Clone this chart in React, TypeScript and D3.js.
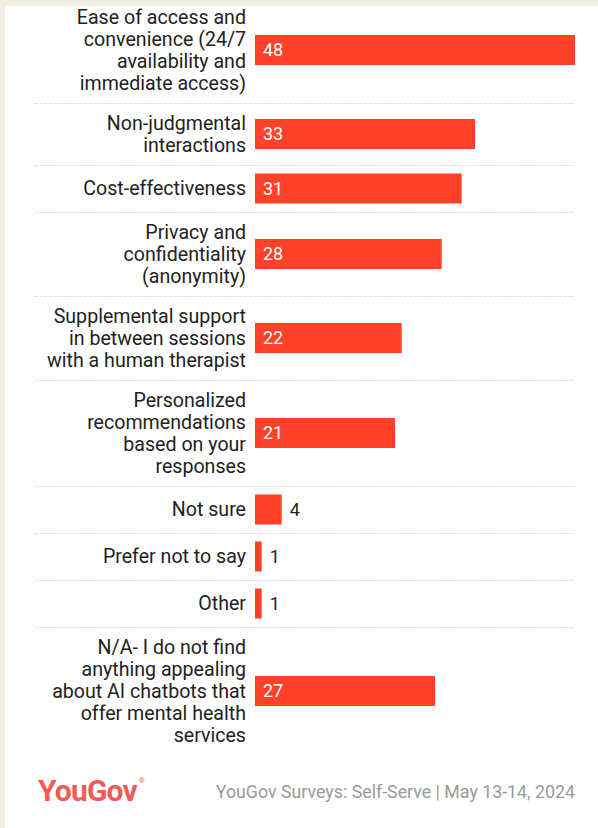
import * as d3 from "d3";
import React from "react";

// Answer labels, line breaks as in the published graphic
const categories = [
	"Ease of access and\nconvenience (24/7\navailability and\nimmediate access)",
	"Non-judgmental\ninteractions",
	"Cost-effectiveness",
	"Privacy and\nconfidentiality\n(anonymity)",
	"Supplemental support\nin between sessions\nwith a human therapist",
	"Personalized\nrecommendations\nbased on your\nresponses",
	"Not sure",
	"Prefer not to say",
	"Other",
	"N/A- I do not find\nanything appealing\nabout AI chatbots that\noffer mental health\nservices",
];

const values = [48, 33, 31, 28, 22, 21, 4, 1, 1, 27];

const sourceNote = "YouGov Surveys: Self-Serve | May 13-14, 2024";

export default function App() {
	const svgRef = React.useRef<SVGSVGElement>(null);

	React.useEffect(() => {
		if (!svgRef.current) return;

		const width = 598;
		const height = 828;
		const font = "Roboto, 'Liberation Sans', sans-serif";
		const red = "#ff4129";
		const lineH = 22;
		const barH = 30;
		const pad = 9;
		const barX = 255;
		const barMax = 575;

		const svg = d3
			.select(svgRef.current)
			.attr("width", width)
			.attr("height", height);

		svg.selectAll("*").remove();

		// background: beige frame with white card
		svg.append("rect").attr("width", width).attr("height", height).attr("fill", "#f3efe2");
		svg
			.append("rect")
			.attr("x", 5)
			.attr("y", 6)
			.attr("width", width - 5)
			.attr("height", height - 6)
			.attr("fill", "#ffffff");

		const x = d3.scaleLinear().domain([0, 48]).range([barX, barMax]);

		// rows have variable height depending on how many label lines they hold
		const lines = categories.map((c) => c.split("\n"));
		const rowHeights = lines.map((l) => Math.max(l.length * lineH, 29) + pad * 2);
		const rowTops: number[] = [];
		let acc = -3;
		rowHeights.forEach((h) => {
			rowTops.push(acc);
			acc += h;
		});

		svg
			.append("clipPath")
			.attr("id", "card")
			.append("rect")
			.attr("x", 5)
			.attr("y", 6)
			.attr("width", width - 5)
			.attr("height", height - 6);
		const g = svg.append("g").attr("clip-path", "url(#card)");

		categories.forEach((_, i) => {
			const cy = rowTops[i] + rowHeights[i] / 2;
			const row = g.append("g");

			// separator
			if (i < categories.length - 1) {
				row
					.append("line")
					.attr("x1", 35)
					.attr("x2", barMax)
					.attr("y1", rowTops[i] + rowHeights[i] + 0.5)
					.attr("y2", rowTops[i] + rowHeights[i] + 0.5)
					.attr("stroke", "#c4c4c4")
					.attr("stroke-width", 1)
					.attr("stroke-dasharray", "1,1.5");
			}

			// label
			const text = row
				.append("text")
				.attr("text-anchor", "end")
				.attr("font-family", font)
				.attr("font-size", 19.6)
				.attr("fill", "#222");
			lines[i].forEach((line, j) => {
				text
					.append("tspan")
					.attr("x", 246)
					.attr("y", cy + (j - (lines[i].length - 1) / 2) * lineH)
					.attr("dy", "0.35em")
					.text(line);
			});

			// bar
			row
				.append("rect")
				.attr("x", x(0))
				.attr("y", cy - barH / 2)
				.attr("width", x(values[i]) - x(0))
				.attr("height", barH)
				.attr("fill", red);

			// value
			const inside = x(values[i]) - x(0) > 30;
			row
				.append("text")
				.attr("x", inside ? x(0) + 8 : x(values[i]) + 8)
				.attr("y", cy)
				.attr("dy", "0.35em")
				.attr("font-family", font)
				.attr("font-size", 18)
				.attr("fill", inside ? "#fff" : "#222")
				.text(values[i]);
		});

		// footer
		const logo = svg
			.append("text")
			.attr("x", 38)
			.attr("y", 801)
			.attr("font-family", font)
			.attr("font-weight", "bold")
			.attr("font-size", 30)
			.attr("letter-spacing", "-0.8px")
			.attr("fill", "#ee5b55")
			.text("YouGov");
		logo
			.append("tspan")
			.attr("font-size", 7)
			.attr("font-weight", "normal")
			.attr("dy", -18)
			.attr("dx", 2)
			.text("®");

		svg
			.append("text")
			.attr("x", barMax)
			.attr("y", 792)
			.attr("dy", "0.35em")
			.attr("text-anchor", "end")
			.attr("font-family", font)
			.attr("font-size", 17.8)
			.attr("fill", "#9a9a9a")
			.text(sourceNote);
	}, []);

	return (
		<div style={{ position: "absolute", left: 0, top: 0 }}>
			<svg ref={svgRef} style={{ display: "block" }} />
		</div>
	);
}
